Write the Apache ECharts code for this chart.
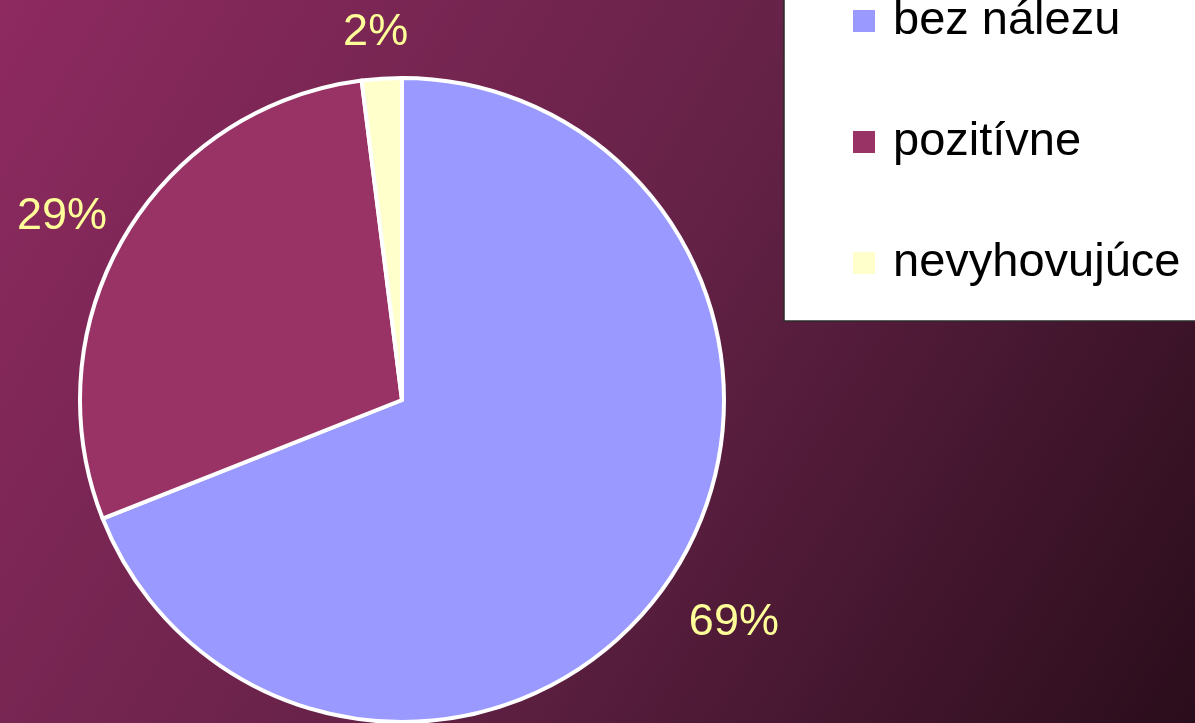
<!DOCTYPE html>
<html lang="sk">
<head>
    <meta charset="UTF-8">
    <script src="https://cdn.jsdelivr.net/npm/echarts@6/dist/echarts.min.js"></script>
    <title>Výsledky</title>
    <style>
        html, body { margin: 0; padding: 0; }
    </style>
</head>
<body>
<div id="main" style="width: 1195px;height:723px;"></div>
<script type="text/javascript">
    var myChart = echarts.init(document.getElementById('main'));

    // dáta
    var categories = ['bez nálezu', 'pozitívne', 'nevyhovujúce'];
    var values = [69, 29, 2];
    var sliceColors = ['#9999ff', '#993366', '#ffffcc'];
    // jemný posun popiskov [dx, dy]
    var labelShift = [[11, 5], [-6, 14], [-2, 20]];

    var pieData = categories.map(function (name, i) {
        return { name: name, value: values[i], itemStyle: { color: sliceColors[i] } };
    });
    var labelData = categories.map(function (name, i) {
        return { name: name, value: values[i] };
    });

    var option = {
        backgroundColor: new echarts.graphic.LinearGradient(0, 0, 1, 1, [
            { offset: 0, color: '#8e2a60' },
            { offset: 0.5, color: '#652247' },
            { offset: 1, color: '#2a0d1b' }
        ]),
        animation: false,
        graphic: [{
            type: 'rect',
            z: 0,
            shape: { x: 784, y: -5, width: 430, height: 326 },
            style: { fill: '#ffffff', stroke: '#2b2b2b', lineWidth: 1.5 }
        }],
        legend: {
            orient: 'vertical',
            left: 846,
            top: -8,
            z: 5,
            data: categories,
            icon: 'rect',
            itemWidth: 24,
            itemHeight: 24,
            itemGap: 73,
            selectedMode: false,
            textStyle: {
                color: '#000',
                fontFamily: 'Liberation Sans, Arial, sans-serif',
                fontSize: 47,
                lineHeight: 48,
                padding: [0, 0, 0, 12]
            }
        },
        series: [{
            name: 'výsledky',
            type: 'pie',
            center: [402, 400],
            radius: 322,
            startAngle: 90,
            clockwise: true,
            silent: true,
            itemStyle: { borderColor: '#ffffff', borderWidth: 4 },
            label: { show: false },
            labelLine: { show: false },
            data: pieData
        }, {
            // len popisky percent
            name: 'popisky',
            type: 'pie',
            center: [402, 400],
            radius: [372, 398],
            startAngle: 90,
            clockwise: true,
            silent: true,
            legendHoverLink: false,
            itemStyle: { color: 'rgba(0,0,0,0)' },
            label: {
                show: true,
                position: 'inside',
                formatter: '{d}%',
                color: '#ffff99',
                fontFamily: 'Liberation Sans, Arial, sans-serif',
                fontSize: 45
            },
            labelLayout: function (params) {
                var s = labelShift[params.dataIndex];
                return { dx: s[0], dy: s[1] };
            },
            labelLine: { show: false },
            data: labelData
        }]
    };

    myChart.setOption(option);
</script>
</body>
</html>
